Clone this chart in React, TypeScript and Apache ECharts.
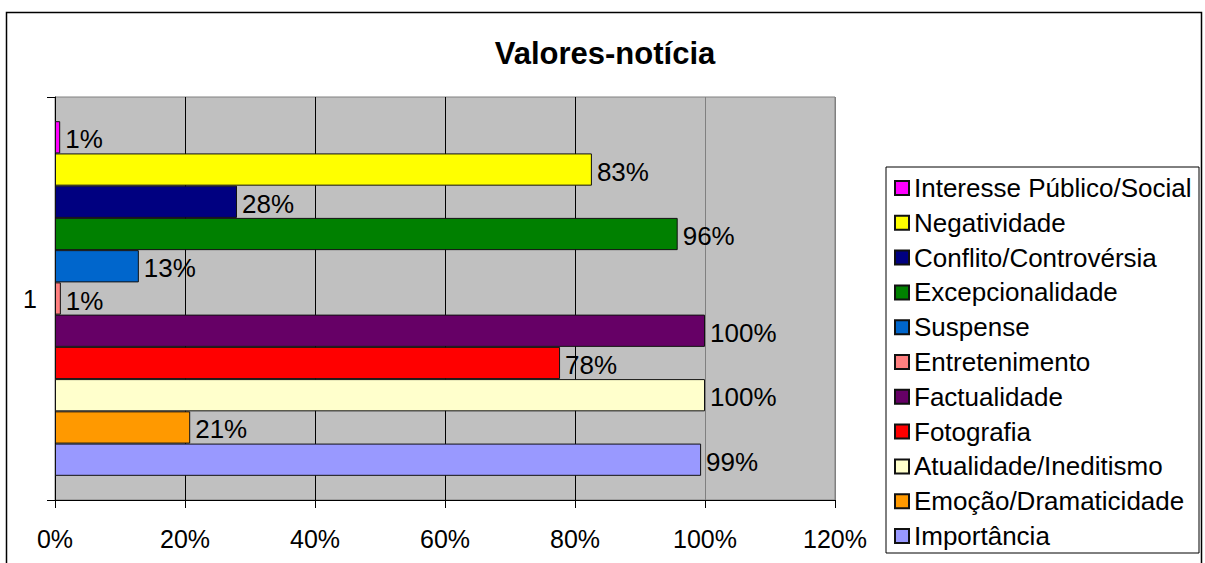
import React, { useEffect, useRef } from "react";
import * as echarts from "echarts";

const categories = ["1"];
const seriesNames = [
  "Interesse Público/Social",
  "Negatividade",
  "Conflito/Controvérsia",
  "Excepcionalidade",
  "Suspense",
  "Entretenimento",
  "Factualidade",
  "Fotografia",
  "Atualidade/Ineditismo",
  "Emoção/Dramaticidade",
  "Importância",
];
const seriesValues = [0.8, 82.6, 28, 95.8, 12.9, 0.9, 100, 77.7, 100, 20.8, 99.4];
const seriesColors = [
  "#FF00FF",
  "#FFFF00",
  "#000080",
  "#008000",
  "#0066CC",
  "#FF8080",
  "#660066",
  "#FF0000",
  "#FFFFCC",
  "#FF9900",
  "#9999FF",
];
const xTicks = [0, 20, 40, 60, 80, 100, 120];

const FONT = "'Liberation Sans', Arial, sans-serif";

export default function App() {
  const ref = useRef<HTMLDivElement>(null);
  useEffect(() => {
    if (!ref.current) return;
    const chart = echarts.init(ref.current, null, { renderer: "svg" });
    const series = seriesNames.map((name, i) => ({
      name,
      type: "bar",
      data: [seriesValues[i]],
      barGap: "0%",
      barCategoryGap: "12%",
      itemStyle: { color: seriesColors[i], borderColor: "#111", borderWidth: 1 },
      label: {
        show: true,
        position: "right",
        distance: 5,
        offset: [0, 2],
        color: "#000",
        fontFamily: FONT,
        fontSize: 26,
        formatter: (p: any) => Math.round(p.value) + "%",
      },
    }));
    chart.setOption({
      animation: false,
      backgroundColor: "#fff",
      title: {
        text: "Valores-notícia",
        left: 600,
        textAlign: "center",
        top: 33,
        textStyle: { fontFamily: FONT, fontSize: 31, fontWeight: "bold", color: "#000" },
      },
      graphic: [
        {
          type: "rect",
          shape: { x: 6.5, y: 12.5, width: 1195, height: 570 },
          style: { fill: "none", stroke: "#000", lineWidth: 1.5 },
          silent: true,
        },
      ],
      legend: {
        orient: "vertical",
        left: 886,
        top: 167,
        data: seriesNames,
        icon: "rect",
        itemWidth: 14,
        itemHeight: 14,
        itemGap: 8.8,
        padding: [8, 2, 4, 8],
        backgroundColor: "#fff",
        borderColor: "#000",
        borderWidth: 1,
        textStyle: { fontFamily: FONT, fontSize: 26, color: "#000", lineHeight: 26, width: 283 },
      },
      grid: {
        left: 55,
        top: 97,
        width: 780,
        height: 403,
        show: true,
        backgroundColor: "#C0C0C0",
        borderColor: "#808080",
        borderWidth: 1,
      },
      xAxis: {
        type: "value",
        min: 0,
        max: 120,
        interval: 20,
        axisLine: { show: true, lineStyle: { color: "#000" } },
        axisTick: { show: true, length: 8, lineStyle: { color: "#000" } },
        axisLabel: {
          margin: 26,
          fontFamily: FONT,
          fontSize: 25,
          color: "#000",
          formatter: (v: number) => (xTicks.includes(v) ? v + "%" : ""),
        },
        splitLine: {
          show: true,
          lineStyle: { color: ["#000", "#000", "#000", "#000", "#000", "#808080", "#808080"], width: 1 },
        },
      },
      yAxis: {
        type: "category",
        data: categories,
        inverse: true,
        axisLine: { show: true, lineStyle: { color: "#000" } },
        axisTick: { show: true, length: 8, lineStyle: { color: "#000" } },
        axisLabel: { margin: 18, fontFamily: FONT, fontSize: 25, color: "#000" },
        splitLine: { show: false },
      },
      series,
    });
    return () => chart.dispose();
  }, []);
  return (
    <div
      ref={ref}
      style={{ position: "absolute", left: 0, top: 0, width: 1205, height: 563 }}
    />
  );
}
